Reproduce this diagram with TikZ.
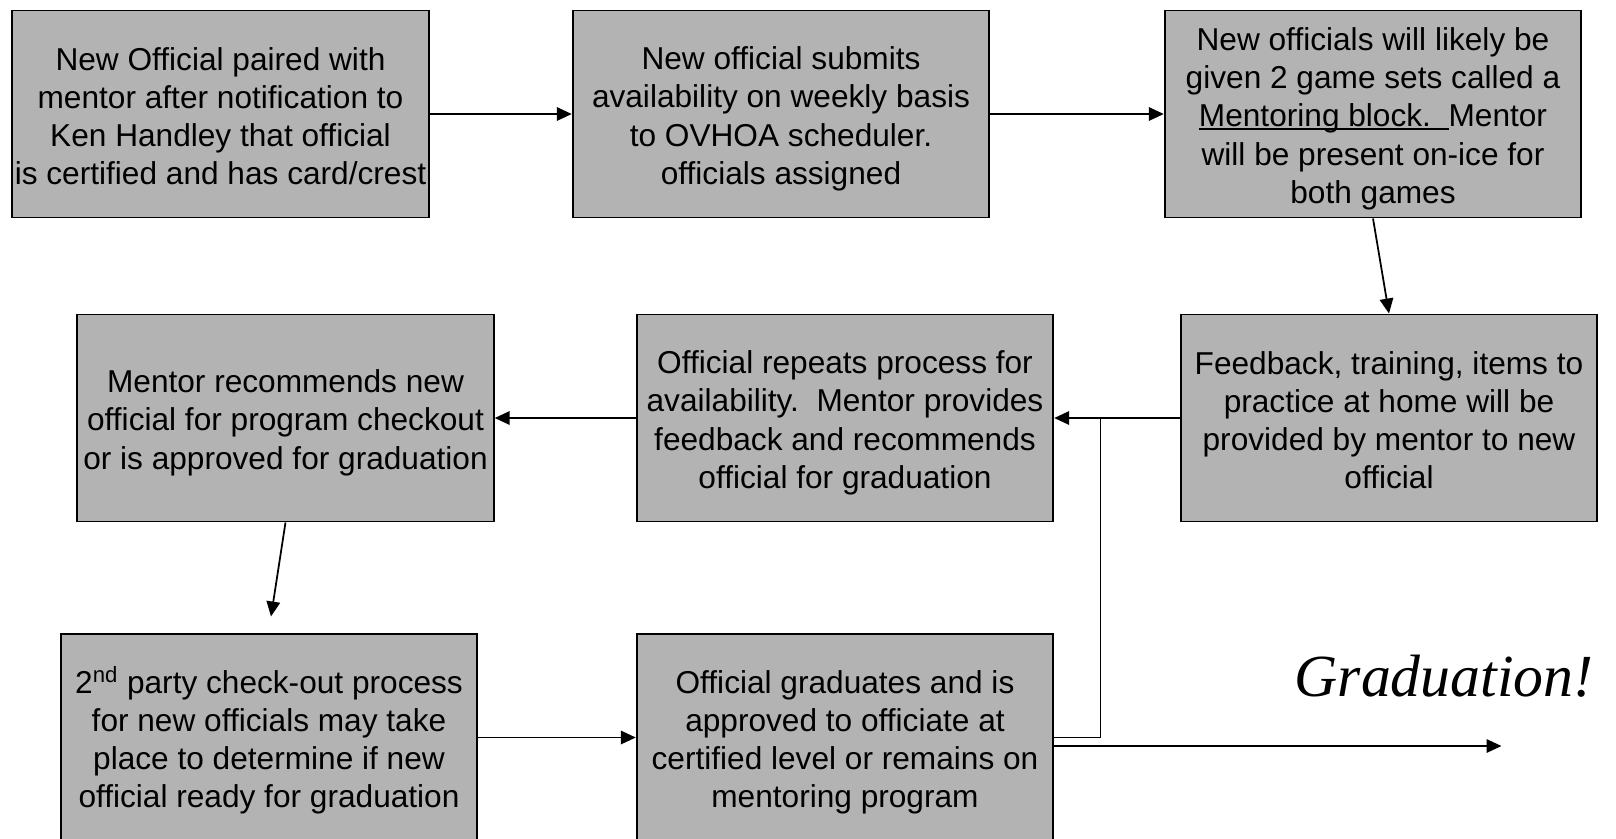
\documentclass[tikz,border=0pt]{standalone}
\usepackage{fontspec}
\setmainfont{Liberation Sans}
\newfontfamily\gradfont{Liberation Serif}
\usetikzlibrary{arrows.meta}
\definecolor{boxgray}{RGB}{179,179,179}
\newcommand\topstrut{\rule{0pt}{18.5pt}}
\newcommand\botstrut{\rule[-3.2pt]{0pt}{3.2pt}}
\newcommand\blockline[1]{\setbox0\hbox{#1}\rlap{\rule[-0.09em]{\wd0}{0.06em}}\box0}
\tikzset{
    stage/.style={draw,line width=1.1pt,fill=boxgray,minimum width=8.33cm,minimum height=4.14cm,
        align=center,inner sep=0pt,font=\fontsize{18}{21.7}\selectfont},
    flow/.style={line width=1pt,-{Triangle[length=0.3cm,width=0.27cm]}}
}
\begin{document}
\begin{tikzpicture}
    \useasboundingbox (0,0) rectangle (32.32,-16.76);
    \node[stage] (pair) at (4.41,-2.28) {\topstrut New Official paired with\\mentor after notification to\\Ken Handley that official\\is certified and has card/crest\botstrut};
    \node[stage] (avail) at (15.62,-2.28) {\topstrut New official submits\\availability on weekly basis\\to OVHOA scheduler.\\officials assigned\botstrut};
    \node[stage] (block) at (27.46,-2.28) {\topstrut New officials will likely be\\given 2 game sets called a\\\blockline{Mentoring block.\ \ }Mentor\\will be present on-ice for\\both games\botstrut};
    \node[stage] (feedback) at (27.78,-8.36) {\topstrut Feedback, training, items to\\practice at home will be\\provided by mentor to new\\official\botstrut};
    \node[stage] (repeat) at (16.90,-8.36) {\topstrut Official repeats process for\\availability.\ \ Mentor provides\\feedback and recommends\\official for graduation\botstrut};
    \node[stage] (recommend) at (5.71,-8.36) {\topstrut Mentor recommends new\\official for program checkout\\or is approved for graduation\botstrut};
    \node[stage] (checkout) at (5.38,-14.75) {\topstrut 2\textsuperscript{nd} party check-out process\\for new officials may take\\place to determine if new\\official ready for graduation\botstrut};
    \node[stage] (graduate) at (16.90,-14.75) {\topstrut Official graduates and is\\approved to officiate at\\certified level or remains on\\mentoring program\botstrut};
    \node[anchor=base,font=\fontsize{34}{40}\gradfont\itshape] (gradtext) at (28.88,-13.93) {Graduation!};
    \coordinate (chkpt) at (5.42,-12.33);
    \coordinate (loopup) at (22.01,-8.36);
    \coordinate (gradend) at (30.03,-14.92);
    % connectors
    \draw[flow] (pair) -- (avail);
    \draw[flow] (avail) -- (block);
    \draw[flow] (block.south) -- (feedback.north);
    \draw[flow] (feedback) -- (repeat);
    \draw[flow] (repeat) -- (recommend);
    \draw[flow] (recommend.south) -- (chkpt);
    \draw[flow] (checkout) -- (graduate);
    \draw[line width=1pt] (graduate.east) -| (loopup);
    \draw[flow] (graduate.east |- gradend) -- (gradend);
\end{tikzpicture}
\end{document}
